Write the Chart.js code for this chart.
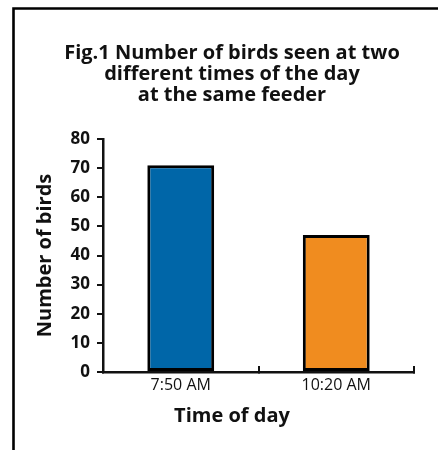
<!DOCTYPE html>
<html>
<head>
<meta charset="utf-8">
<script src="https://cdn.jsdelivr.net/npm/chart.js@4/dist/chart.umd.min.js"></script>
<style>
html,body{margin:0;padding:0;background:#fff;}
#wrap{width:438px;height:450px;position:relative;}
</style>
</head>
<body>
<div id="wrap"><canvas id="c" width="438" height="450"></canvas></div>
<script>
const titleLines = ["Fig.1 Number of birds seen at two", "different times of the day", "at the same feeder"];
const categories = ["7:50 AM", "10:20 AM"];
const birdCounts = [71, 47];
const barColors = ["#0066A8", "#F08C1F"];
const yTicks = [0, 10, 20, 30, 40, 50, 60, 70, 80];
const xTitle = "Time of day";
const yTitle = "Number of birds";

const FONT = "'Open Sans', Lato, sans-serif";
const INK = "#111111";

const framePlugin = {
  id: "frame",
  beforeDraw(chart) {
    const ctx = chart.ctx;
    ctx.save();
    ctx.fillStyle = "#ffffff";
    ctx.fillRect(0, 0, chart.width, chart.height);
    ctx.strokeStyle = "#000";
    ctx.lineWidth = 2.6;
    ctx.beginPath();
    ctx.moveTo(13.5, chart.height);
    ctx.lineTo(13.5, 8.5);
    ctx.lineTo(chart.width, 8.5);
    ctx.stroke();
    ctx.restore();
  }
};

new Chart(document.getElementById("c"), {
  type: "bar",
  data: {
    labels: categories,
    datasets: [{
      data: birdCounts,
      backgroundColor: barColors,
      borderColor: "#000",
      borderWidth: { top: 3, right: 3, bottom: 3, left: 3 },
      borderSkipped: false,
      inflateAmount: 0,
      categoryPercentage: 1,
      barPercentage: 0.43
    }]
  },
  options: {
    responsive: false,
    animation: false,
    devicePixelRatio: 1,
    layout: { padding: { left: 50, right: 24, top: 0, bottom: 0 } },
    plugins: {
      legend: { display: false },
      tooltip: { enabled: false },
      title: {
        display: true,
        text: titleLines,
        color: INK,
        font: { family: FONT, size: 20, weight: "bold", lineHeight: 1.05 },
        padding: { top: 43, bottom: 33 }
      },
      subtitle: {
        display: true,
        position: "bottom",
        text: xTitle,
        color: INK,
        font: { family: FONT, size: 20, weight: "bold", lineHeight: 1.2 },
        padding: { top: 0, bottom: 22 }
      }
    },
    scales: {
      x: {
        offset: true,
        grid: {
          offset: true,
          drawOnChartArea: false,
          drawTicks: true,
          tickLength: -6,
          color: "#111",
          lineWidth: 2
        },
        border: { display: true, color: "#111", width: 2.5 },
        ticks: {
          color: INK,
          font: { family: FONT, size: 16, weight: "normal" },
          padding: 10
        },
        afterFit(scale) { scale.height = 32; }
      },
      y: {
        min: 0,
        max: 80,
        afterBuildTicks(scale) { scale.ticks = yTicks.map(v => ({ value: v })); },
        grid: {
          drawOnChartArea: false,
          drawTicks: true,
          tickLength: 6,
          color: "#111",
          lineWidth: 2
        },
        border: { display: true, color: "#111", width: 2.5 },
        ticks: {
          color: INK,
          font: { family: FONT, size: 17, weight: "bold" },
          padding: 7
        },
        title: {
          display: true,
          text: yTitle,
          color: INK,
          font: { family: FONT, size: 20, weight: "bold", lineHeight: 1.2 },
          padding: { top: -17, bottom: 0 }
        },
        afterFit(scale) { scale.width = 53; }
      }
    }
  },
  plugins: [framePlugin]
});
</script>
</body>
</html>
